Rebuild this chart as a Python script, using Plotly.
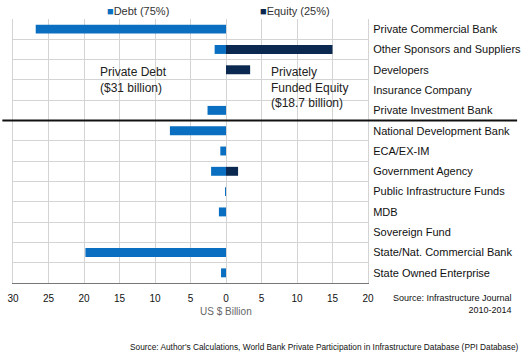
import plotly.graph_objects as go

categories = ["Private Commercial Bank", "Other Sponsors and Suppliers", "Developers",
              "Insurance Company", "Private Investment Bank", "National Development Bank",
              "ECA/EX-IM", "Government Agency", "Public Infrastructure Funds", "MDB",
              "Sovereign Fund", "State/Nat. Commercial Bank", "State Owned Enterprise"]
debt = [-26.8, -1.6, 0, 0, -2.6, -7.9, -0.8, -2.1, -0.1, -1.0, 0, -19.8, -0.7]
equity = [0, 15.0, 3.4, 0, 0, 0, 0, 1.7, 0, 0, 0, 0, 0]
x_ticks = [-30, -25, -20, -15, -10, -5, 0, 5, 10, 15, 20]
x_tick_labels = ["30", "25", "20", "15", "10", "5", "0", "5", "10", "15", "20"]
series_names = ["Debt (75%)", "Equity (25%)"]

FONT = "Liberation Sans, Arial, sans-serif"
DEBT_C = "#0a6fc0"
EQ_C = "#0b2850"

fig = go.Figure()
fig.add_trace(go.Bar(y=categories, x=debt, orientation="h", name=series_names[0],
                     marker=dict(color=DEBT_C, line=dict(width=0)), width=0.44))
fig.add_trace(go.Bar(y=categories, x=equity, orientation="h", name=series_names[1],
                     marker=dict(color=EQ_C, line=dict(width=0)), width=0.44))

fig.update_layout(
    width=528, height=353,
    margin=dict(l=13, r=160, t=19, b=70, autoexpand=False),
    barmode="relative",
    paper_bgcolor="white", plot_bgcolor="white",
    font=dict(family=FONT, size=11, color="#222"),
    showlegend=False,
    xaxis=dict(range=[-30, 20], tickvals=x_ticks, ticktext=x_tick_labels,
               showgrid=True, gridcolor="#d4d4d4", gridwidth=1, zeroline=False,
               showline=True, linecolor="#777", linewidth=1, mirror=False,
               tickfont=dict(size=10, color="#111"), ticks="", ticklabelstandoff=6,
               fixedrange=True),
    yaxis=dict(type="category", categoryorder="array", categoryarray=categories,
               autorange="reversed", side="right", tickson="boundaries",
               showgrid=True, gridcolor="#d4d4d4", gridwidth=1,
               showline=True, linecolor="#d4d4d4", mirror=True,
               ticks="", tickfont=dict(size=11, color="#111"), ticklabelstandoff=2),
)

# legend drawn as text annotations
fig.add_annotation(xref="paper", yref="paper", x=0.258, y=1.0, xanchor="left", yanchor="bottom",
                   text=f"<span style='color:{DEBT_C}'>■</span>{series_names[0]}", showarrow=False,
                   font=dict(size=11, color="#333"))
fig.add_annotation(xref="paper", yref="paper", x=0.69, y=1.0, xanchor="left", yanchor="bottom",
                   text=f"<span style='color:{EQ_C}'>■</span>{series_names[1]}", showarrow=False,
                   font=dict(size=11, color="#333"))

# thick separator line between private and public sources
fig.add_shape(type="line", xref="paper", yref="y", x0=-0.03, x1=1.42, y0=4.5, y1=4.5,
              line=dict(color="#111", width=2))

fig.add_annotation(xref="paper", yref="paper", x=0.24, y=0.835, xanchor="left", yanchor="top",
                   text="Private Debt<br>($31 billion)", showarrow=False, align="left",
                   font=dict(size=12, color="#222"))
fig.add_annotation(xref="paper", yref="paper", x=0.722, y=0.835, xanchor="left", yanchor="top",
                   text="Privately<br>Funded Equity<br>($18.7 billion)", showarrow=False, align="left",
                   font=dict(size=12, color="#222"))
fig.add_annotation(xref="paper", yref="paper", x=0.6, y=-0.08, xanchor="center", yanchor="top",
                   text="US $ Billion", showarrow=False, font=dict(size=10, color="#666"))
fig.add_annotation(xref="paper", yref="paper", x=1.41, y=-0.03, xanchor="right", yanchor="top",
                   text="Source: Infrastructure Journal<br>2010-2014", showarrow=False, align="right",
                   font=dict(size=9, color="#111"))
fig.add_annotation(xref="paper", yref="paper", x=1.43, y=-0.215, xanchor="right", yanchor="top",
                   text="Source: Author's Calculations, World Bank Private Participation in Infrastructure Database (PPI Database)",
                   showarrow=False, align="right", font=dict(size=8.3, color="#111"))

fig.write_html("out.html")
